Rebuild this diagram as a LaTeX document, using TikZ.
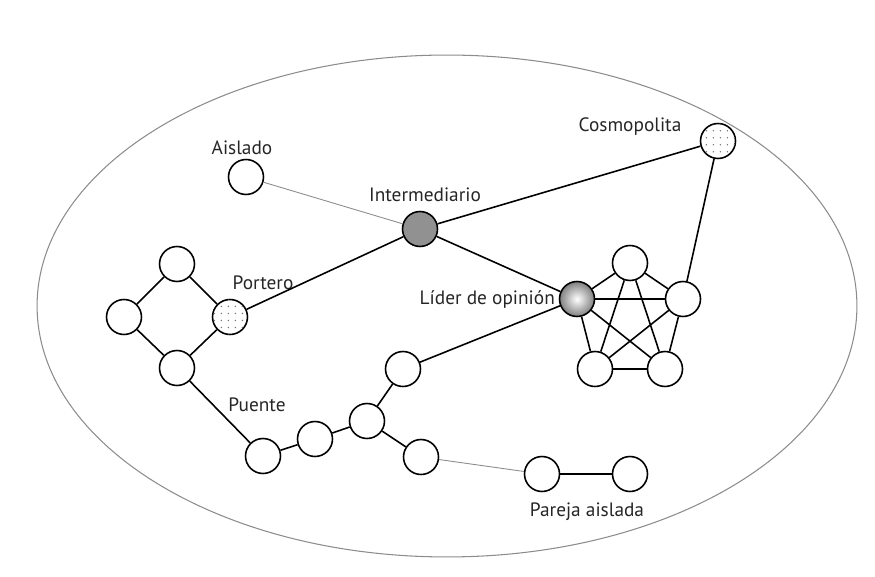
\documentclass[tikz,border=0pt]{standalone}
\usepackage{fontspec}
\setmainfont{PT Sans}
\usetikzlibrary{positioning,patterns.meta}
\definecolor{rimgray}{RGB}{140,140,140}
\definecolor{hubgray}{RGB}{145,145,145}
\tikzdeclarepattern{name=sparsedots,type=uncolored,
  bottom left={(-0.1pt,-0.1pt)},top right={(4.1pt,4.1pt)},tile size={(4pt,4pt)},
  code={\fill (2pt,2pt) circle (0.45pt);}}

\begin{document}
\begin{tikzpicture}[x=0.02cm,y=-0.02cm,
    actor/.style={circle,draw,line width=0.9pt,minimum size=0.7cm,inner sep=0pt,fill=white},
    dotted actor/.style={actor,postaction={pattern=sparsedots,pattern color=black!55}},
    tie/.style={line width=0.9pt},
    weaktie/.style={line width=0.5pt,rimgray},
    tag/.style={font=\fontsize{11}{13}\selectfont,text=black!85,inner sep=1pt}]
    \useasboundingbox (0,0) rectangle (875,577);
    \draw[rimgray,line width=0.6pt] (447,306) ellipse [x radius=8.2cm,y radius=5.02cm];

    % actors
    \node[actor] (aislado) at (246,177) {};
    \node[actor,fill=hubgray] (inter) at (420,229) {};
    \node[dotted actor] (cosmo) at (718,141) {};
    \node[dotted actor] (portero) at (230,317) {};
    \node[actor] (sqtop) at (177,264) {};
    \node[actor] (sqleft) at (124,317) {};
    \node[actor] (sqbot) at (177,368) {};
    \node[actor] (puente) at (263,456) {};
    \node[actor] (chain) at (315,439) {};
    \node[actor] (fork) at (367,421) {};
    \node[actor] (forkup) at (403,369) {};
    \node[actor] (forkdown) at (421,457) {};
    \node[actor] (pairl) at (542,474) {};
    \node[actor] (pairr) at (630,474) {};
    \node[actor,shading=radial,inner color=white,outer color=black!50] (leader) at (577,299) {};
    \node[actor] (pentop) at (630,263) {};
    \node[actor] (penright) at (683,299) {};
    \node[actor] (penbl) at (595,369) {};
    \node[actor] (penbr) at (665,369) {};

    % labels
    \node[tag] at (242,148) {Aislado};
    \node[tag] at (425,195) {Intermediario};
    \node[tag] at (630,127) {Cosmopolita};
    \node[tag] at (263,283) {Portero};
    \node[tag,left=1pt of leader] {Líder de opinión};
    \node[tag] at (257,405) {Puente};
    \node[tag] at (587,512) {Pareja aislada};

    % ties
    \draw[weaktie] (aislado) -- (inter);
    \draw[weaktie] (forkdown) -- (pairl);
    \draw[tie] (inter) -- (cosmo);
    \draw[tie] (inter) -- (portero);
    \draw[tie] (inter) -- (leader);
    \draw[tie] (cosmo) -- (penright);
    \draw[tie] (sqtop) -- (portero) -- (sqbot) -- (sqleft) -- (sqtop);
    \draw[tie] (sqbot) -- (puente) -- (chain) -- (fork) -- (forkup) -- (leader);
    \draw[tie] (fork) -- (forkdown);
    \draw[tie] (pairl) -- (pairr);
    \foreach \a/\b in {leader/pentop,leader/penright,leader/penbl,leader/penbr,
        pentop/penright,pentop/penbl,pentop/penbr,penright/penbl,penright/penbr,penbl/penbr}
        \draw[tie] (\a) -- (\b);
\end{tikzpicture}
\end{document}
